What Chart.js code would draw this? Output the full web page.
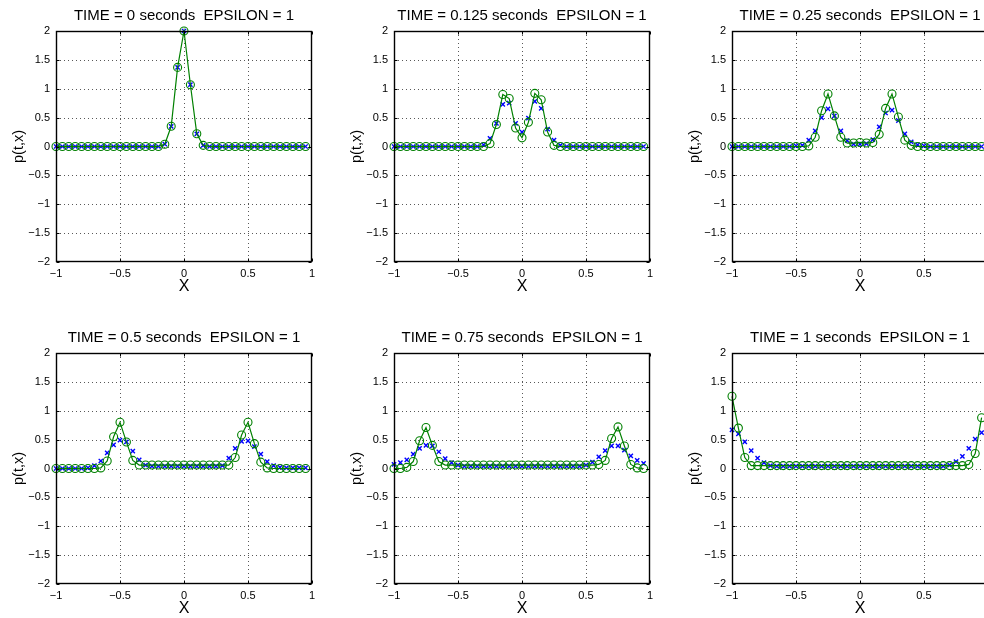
<!DOCTYPE html>
<html>
<head>
<meta charset="utf-8">
<script src="https://cdn.jsdelivr.net/npm/chart.js@4.4.1/dist/chart.umd.min.js"></script>
<style>
  body { margin: 0; background: #fff; }
  #wrap { position: relative; width: 984px; height: 618px; overflow: hidden; background: #fff; }
  canvas { position: absolute; }
</style>
</head>
<body>
<div id="wrap">
  <canvas id="p0" width="330" height="310" style="left:0px;top:0px"></canvas>
  <canvas id="p1" width="330" height="310" style="left:338px;top:0px"></canvas>
  <canvas id="p2" width="330" height="310" style="left:676px;top:0px"></canvas>
  <canvas id="p3" width="330" height="310" style="left:0px;top:322px"></canvas>
  <canvas id="p4" width="330" height="310" style="left:338px;top:322px"></canvas>
  <canvas id="p5" width="330" height="310" style="left:676px;top:322px"></canvas>
</div>
<script>
// grid points
const xs = [-1, -0.95, -0.9, -0.85, -0.8, -0.75, -0.7, -0.65, -0.6, -0.55,
            -0.5, -0.45, -0.4, -0.35, -0.3, -0.25, -0.2, -0.15, -0.1, -0.05,
            0, 0.05, 0.1, 0.15, 0.2, 0.25, 0.3, 0.35, 0.4, 0.45,
            0.5, 0.55, 0.6, 0.65, 0.7, 0.75, 0.8, 0.85, 0.9, 0.95];

const xTicks = [-1, -0.5, 0, 0.5, 1];
const yTicks = [-2, -1.5, -1, -0.5, 0, 0.5, 1, 1.5, 2];

const titles = [
  "TIME = 0 seconds  EPSILON = 1",
  "TIME = 0.125 seconds  EPSILON = 1",
  "TIME = 0.25 seconds  EPSILON = 1",
  "TIME = 0.5 seconds  EPSILON = 1",
  "TIME = 0.75 seconds  EPSILON = 1",
  "TIME = 1 seconds  EPSILON = 1"
];

// blue x markers
const blueT0 = [0,0,0,0,0,0,0,0,0,0, 0,0,0,0,0,0,0,0.04,0.35,1.37,
                2.0,1.07,0.22,0.02,0,0,0,0,0,0, 0,0,0,0,0,0,0,0,0,0];
const blueT1 = [0,0,0,0,0,0,0,0,0,0, 0,0,0,0,0.03,0.14,0.4,0.73,0.75,0.4,
                0.25,0.49,0.78,0.66,0.3,0.11,0.02,0,0,0, 0,0,0,0,0,0,0,0,0,0];
const blueT2 = [0,0,0,0,0,0,0,0,0,0, 0.01,0.02,0.11,0.27,0.5,0.65,0.53,0.27,0.1,0.04,
                0.04,0.05,0.12,0.34,0.58,0.63,0.45,0.22,0.08,0.03, 0.01,0,0,0,0,0,0,0,0,0];
const blueT3 = [0,0,0,0,0,0.01,0.05,0.13,0.27,0.41, 0.49,0.46,0.3,0.15,0.06,0.04,0.04,0.04,0.04,0.04,
                0.04,0.04,0.04,0.04,0.04,0.04,0.05,0.18,0.35,0.47, 0.48,0.38,0.25,0.12,0.05,0.02,0.01,0.01,0.01,0.01];
const blueT4 = [0.07,0.1,0.15,0.25,0.35,0.4,0.39,0.29,0.17,0.1, 0.06,0.04,0.04,0.04,0.04,0.04,0.04,0.04,0.04,0.04,
                0.04,0.04,0.04,0.04,0.04,0.04,0.04,0.04,0.04,0.04, 0.06,0.11,0.2,0.31,0.39,0.39,0.32,0.22,0.14,0.09];
const blueT5 = [0.67,0.6,0.46,0.31,0.18,0.1,0.05,0.04,0.04,0.04, 0.04,0.04,0.04,0.04,0.04,0.04,0.04,0.04,0.04,0.04,
                0.04,0.04,0.04,0.04,0.04,0.04,0.04,0.04,0.04,0.04, 0.04,0.04,0.04,0.04,0.06,0.12,0.21,0.35,0.51,0.62];

// green line with circles
const greenT0 = [0,0,0,0,0,0,0,0,0,0, 0,0,0,0,0,0,0,0.04,0.35,1.37,
                 2.0,1.07,0.22,0.02,0,0,0,0,0,0, 0,0,0,0,0,0,0,0,0,0];
const greenT1 = [0,0,0,0,0,0,0,0,0,0, 0,0,0,0,0,0.05,0.38,0.9,0.83,0.32,
                 0.15,0.42,0.92,0.81,0.25,0.02,0,0,0,0, 0,0,0,0,0,0,0,0,0,0];
const greenT2 = [0,0,0,0,0,0,0,0,0,0, 0,0,0.01,0.16,0.62,0.91,0.53,0.16,0.06,0.06,
                 0.07,0.06,0.07,0.21,0.66,0.91,0.51,0.11,0.02,0, 0,0,0,0,0,0,0,0,0,0];
const greenT3 = [0,0,0,0,0,0,0,0.01,0.13,0.55, 0.8,0.46,0.14,0.06,0.06,0.06,0.06,0.06,0.06,0.06,
                 0.06,0.06,0.06,0.06,0.06,0.06,0.06,0.06,0.19,0.58, 0.8,0.43,0.11,0.01,0,0,0,0,0,0];
const greenT4 = [0,0,0.02,0.12,0.48,0.71,0.4,0.12,0.06,0.06, 0.06,0.06,0.06,0.06,0.06,0.06,0.06,0.06,0.06,0.06,
                 0.06,0.06,0.06,0.06,0.06,0.06,0.06,0.06,0.06,0.06, 0.06,0.06,0.07,0.14,0.52,0.72,0.39,0.07,0.01,0];
const greenT5 = [1.25,0.7,0.19,0.05,0.05,0.05,0.05,0.05,0.05,0.05, 0.05,0.05,0.05,0.05,0.05,0.05,0.05,0.05,0.05,0.05,
                 0.05,0.05,0.05,0.05,0.05,0.05,0.05,0.05,0.05,0.05, 0.05,0.05,0.05,0.05,0.05,0.05,0.05,0.07,0.26,0.88];

const blues = [blueT0, blueT1, blueT2, blueT3, blueT4, blueT5];
const greens = [greenT0, greenT1, greenT2, greenT3, greenT4, greenT5];

const FONT = "'Liberation Sans', Arial, Helvetica, sans-serif";

function minus(v) {
  return v < 0 ? '\u2212' + Math.abs(v) : String(v);
}

// dotted grid, inner ticks, box and title in the matlab look
const matlabAxes = {
  id: 'matlabAxes',
  beforeDatasetsDraw(chart) {
    const { ctx, chartArea: a, scales: { x, y } } = chart;
    ctx.save();
    ctx.strokeStyle = 'rgba(0,0,0,0.65)';
    ctx.lineWidth = 1;
    ctx.setLineDash([1, 3]);
    ctx.beginPath();
    xTicks.slice(1, -1).forEach(v => {
      const px = Math.round(x.getPixelForValue(v)) + 0.5;
      ctx.moveTo(px, a.top);
      ctx.lineTo(px, a.bottom);
    });
    yTicks.slice(1, -1).forEach(v => {
      const py = Math.round(y.getPixelForValue(v)) + 0.5;
      ctx.moveTo(a.left, py);
      ctx.lineTo(a.right, py);
    });
    ctx.stroke();
    ctx.restore();
  },
  afterDatasetsDraw(chart) {
    const { ctx, chartArea: a, scales: { x, y } } = chart;
    ctx.save();
    ctx.strokeStyle = '#000';
    ctx.lineWidth = 1;
    const L = Math.round(a.left) + 0.5, R = Math.round(a.right) - 0.5;
    const T = Math.round(a.top) + 0.5, B = Math.round(a.bottom) - 0.5;
    ctx.beginPath();
    xTicks.forEach(v => {
      const px = Math.round(x.getPixelForValue(v)) + 0.5;
      ctx.moveTo(px, B); ctx.lineTo(px, B - 3);
      ctx.moveTo(px, T); ctx.lineTo(px, T + 3);
    });
    yTicks.forEach(v => {
      const py = Math.round(y.getPixelForValue(v)) + 0.5;
      ctx.moveTo(L, py); ctx.lineTo(L + 3, py);
      ctx.moveTo(R, py); ctx.lineTo(R - 3, py);
    });
    ctx.stroke();
    ctx.lineWidth = 1.4;
    ctx.strokeRect(L, T, R - L, B - T);
    ctx.restore();
  },
  afterDraw(chart, args, opts) {
    const { ctx, chartArea: a } = chart;
    ctx.save();
    ctx.fillStyle = '#000';
    ctx.font = '15px ' + FONT;
    ctx.textAlign = 'center';
    ctx.textBaseline = 'middle';
    ctx.fillText(opts.text, (a.left + a.right) / 2, a.top - 15);
    ctx.restore();
  }
};

function makePlot(i) {
  new Chart(document.getElementById('p' + i), {
    type: 'line',
    data: {
      datasets: [
        {
          label: 'p',
          data: xs.map((xv, k) => ({ x: xv, y: greens[i][k] })),
          borderColor: '#008000',
          borderWidth: 1.2,
          backgroundColor: 'rgba(0,0,0,0)',
          pointStyle: 'circle',
          pointRadius: 4,
          pointBorderColor: '#008000',
          pointBorderWidth: 1.1,
          pointBackgroundColor: 'rgba(0,0,0,0)',
          tension: 0,
          clip: false
        },
        {
          label: 'q',
          data: xs.map((xv, k) => ({ x: xv, y: blues[i][k] })),
          showLine: false,
          pointStyle: 'crossRot',
          pointRadius: 3,
          pointBorderColor: '#0000ff',
          pointBorderWidth: 1.4,
          borderColor: '#0000ff',
          clip: false
        }
      ]
    },
    options: {
      responsive: false,
      animation: false,
      devicePixelRatio: 1,
      layout: { padding: { top: 31, right: 18, left: 0, bottom: 0 } },
      plugins: {
        legend: { display: false },
        tooltip: { enabled: false },
        matlabAxes: { text: titles[i] }
      },
      scales: {
        x: {
          type: 'linear',
          min: -1, max: 1,
          grid: { display: false, drawTicks: false },
          border: { display: false },
          ticks: {
            stepSize: 0.5, maxRotation: 0, padding: 5,
            color: '#000', font: { family: FONT, size: 11 },
            callback: v => minus(v)
          },
          title: {
            display: true, text: 'X', color: '#000',
            font: { family: FONT, size: 16 },
            padding: { top: 0, bottom: 14 }
          },
          afterFit: s => { s.height = 48; }
        },
        y: {
          min: -2, max: 2,
          grid: { display: false, drawTicks: false },
          border: { display: false },
          ticks: {
            stepSize: 0.5, padding: 6, autoSkip: false,
            color: '#000', font: { family: FONT, size: 11 },
            callback: v => minus(v)
          },
          title: {
            display: true, text: 'p(t,x)', color: '#000',
            font: { family: FONT, size: 14.5 },
            padding: { top: 10, bottom: 0 }
          },
          afterFit: s => { s.width = 56; }
        }
      }
    },
    plugins: [matlabAxes]
  });
}

for (let i = 0; i < 6; i++) makePlot(i);
</script>
</body>
</html>
